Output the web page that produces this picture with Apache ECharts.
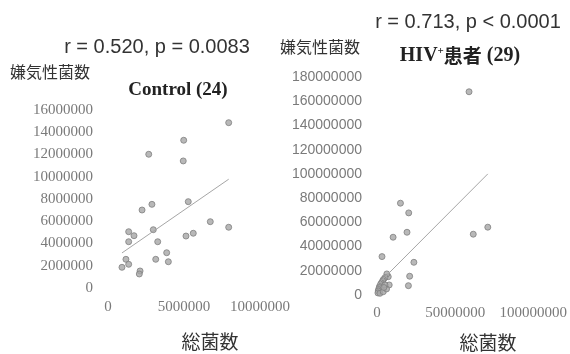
<!DOCTYPE html>
<html>
<head>
<meta charset="utf-8">
<script src="https://cdn.jsdelivr.net/npm/echarts@6/dist/echarts.min.js"></script>
<style>
  html, body { margin: 0; padding: 0; background: #fff; }
  #chart { width: 570px; height: 354px; }
</style>
</head>
<body>
<div id="chart"></div>
<script>
// Control (24): 総菌数 vs 嫌気性菌数
var controlTotal = [7940000, 4980000, 2680000, 4950000, 5280000, 2890000, 2240000, 6730000,
  7940000, 1360000, 1710000, 2980000, 5610000, 5130000, 1360000, 3270000, 3860000, 1180000,
  3140000, 1360000, 3970000, 920000, 2110000, 2060000]
var controlAnaerobe = [14860000, 13280000, 12020000, 11420000, 7760000, 7520000, 7010000, 5960000,
  5460000, 5060000, 4700000, 5240000, 4920000, 4670000, 4160000, 4160000, 3170000, 2580000,
  2580000, 2130000, 2360000, 1860000, 1530000, 1260000]

// HIV+患者 (29)
var hivTotal = [58900000, 15000000, 20300000, 19200000, 10300000, 3200000, 23600000, 20900000,
  20100000, 7800000, 7200000, 61600000, 70900000,
  6300000, 5100000, 4100000, 3600000, 2800000, 2300000, 1600000, 1500000, 1000000, 800000,
  600000, 1900000, 4000000, 6100000, 5100000, 4400000]
var hivAnaerobe = [167800000, 75800000, 67800000, 51800000, 47700000, 31700000, 27000000, 15500000,
  7700000, 8300000, 15100000, 50200000, 56000000,
  17400000, 14300000, 12800000, 11600000, 9900000, 8800000, 7000000, 6000000, 4500000, 3300000,
  1700000, 1400000, 2700000, 5000000, 8300000, 6200000]

// tick labels
var controlXTicks = [0, 5000000, 10000000]
var controlYTicks = [0, 2000000, 4000000, 6000000, 8000000, 10000000, 12000000, 14000000, 16000000]
var hivXTicks = [0, 50000000, 100000000]
var hivYTicks = [0, 20000000, 40000000, 60000000, 80000000, 100000000, 120000000, 140000000, 160000000, 180000000]

function zip(xs, ys) {
  return xs.map(function(x, i) { return [x, ys[i]] })
}

// linear trendline across the x range of the data
function trend(xs, ys) {
  var n = xs.length
  var mx = xs.reduce(function(a, b) { return a + b }, 0) / n
  var my = ys.reduce(function(a, b) { return a + b }, 0) / n
  var sxy = 0
  var sxx = 0
  for (var i = 0; i < n; i++) {
    sxy += (xs[i] - mx) * (ys[i] - my)
    sxx += (xs[i] - mx) * (xs[i] - mx)
  }
  var b = sxy / sxx
  var a = my - b * mx
  var x0 = Math.min.apply(null, xs)
  var x1 = Math.max.apply(null, xs)
  return [[x0, a + b * x0], [x1, a + b * x1]]
}

function valueAxis(gridIndex, ticks, label) {
  return {
    type: 'value',
    gridIndex: gridIndex,
    min: ticks[0],
    max: ticks[ticks.length - 1],
    interval: ticks[1] - ticks[0],
    axisLine: { show: false },
    axisTick: { show: false },
    splitLine: { show: false },
    axisLabel: Object.assign({
      color: '#7a7a7a',
      formatter: function(v) { return String(v) }
    }, label)
  }
}

var serifLabel = { fontFamily: 'Liberation Serif', fontSize: 15 }

function text(x, y, str, font, align, extra) {
  return {
    type: 'text',
    x: x,
    y: y,
    style: Object.assign({
      text: str,
      font: font,
      fill: '#333',
      align: align,
      verticalAlign: 'middle',
      textAlign: align,
      textVerticalAlign: 'middle'
    }, extra || {})
  }
}

var markerStyle = { color: '#a6a6a6', borderColor: '#808080', borderWidth: 1 }
var trendStyle = { color: '#a6a6a6', width: 1 }

var chart = echarts.init(document.getElementById('chart'))
chart.setOption({
  animation: false,
  backgroundColor: '#fff',
  grid: [
    { left: 108, top: 110, width: 152, height: 178 },
    { left: 377, top: 77, width: 158, height: 218 }
  ],
  xAxis: [
    valueAxis(0, controlXTicks, Object.assign({ margin: 12 }, serifLabel)),
    valueAxis(1, hivXTicks, Object.assign({ margin: 11 }, serifLabel))
  ],
  yAxis: [
    valueAxis(0, controlYTicks, Object.assign({ margin: 15 }, serifLabel)),
    valueAxis(1, hivYTicks, { margin: 15, fontFamily: 'Liberation Sans', fontSize: 14 })
  ],
  graphic: [
    text(157, 47, 'r = 0.520, p = 0.0083', '20px "Liberation Sans"', 'center'),
    text(10, 72, '嫌気性菌数', '16px "Noto Sans CJK JP"', 'left'),
    text(178, 90, 'Control (24)', 'bold 19px "Liberation Serif"', 'center', { fill: '#222' }),
    text(210, 342, '総菌数', '19px "Noto Sans CJK JP"', 'center'),
    text(468, 22, 'r = 0.713, p < 0.0001', '20px "Liberation Sans"', 'center'),
    text(280, 47, '嫌気性菌数', '16px "Noto Sans CJK JP"', 'left'),
    text(460, 56, '{a|HIV}{s|+}{b|患者}{a| (29)}', 'bold 20px "Liberation Serif"', 'center', {
      fill: '#222',
      rich: {
        a: { font: 'bold 20px "Liberation Serif"', fill: '#222' },
        s: { font: 'bold 11px "Liberation Serif"', fill: '#222', verticalAlign: 'top' },
        b: { font: 'bold 19px "Noto Sans CJK JP"', fill: '#222' }
      }
    }),
    text(488, 343, '総菌数', '19px "Noto Sans CJK JP"', 'center')
  ],
  series: [
    {
      type: 'scatter',
      xAxisIndex: 0,
      yAxisIndex: 0,
      symbolSize: 6,
      itemStyle: markerStyle,
      data: zip(controlTotal, controlAnaerobe)
    },
    {
      type: 'line',
      xAxisIndex: 0,
      yAxisIndex: 0,
      symbol: 'none',
      lineStyle: trendStyle,
      data: trend(controlTotal, controlAnaerobe)
    },
    {
      type: 'scatter',
      xAxisIndex: 1,
      yAxisIndex: 1,
      symbolSize: 6,
      itemStyle: markerStyle,
      data: zip(hivTotal, hivAnaerobe)
    },
    {
      type: 'line',
      xAxisIndex: 1,
      yAxisIndex: 1,
      symbol: 'none',
      lineStyle: trendStyle,
      data: trend(hivTotal, hivAnaerobe)
    }
  ]
})
</script>
</body>
</html>
